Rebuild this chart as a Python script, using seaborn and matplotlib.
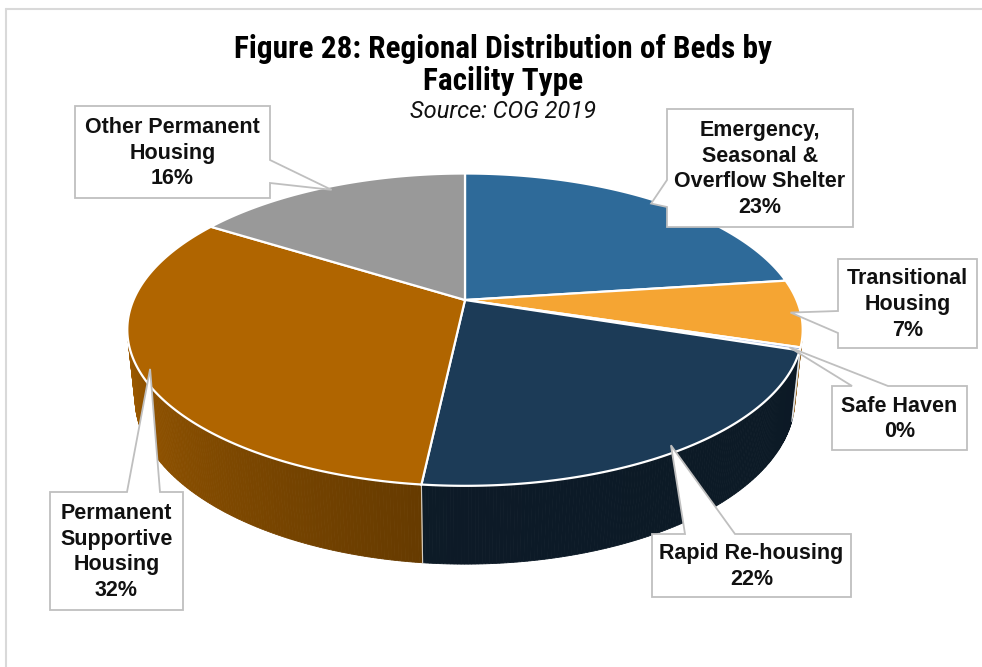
import numpy as np
import matplotlib
matplotlib.use("Agg")
import matplotlib.pyplot as plt
from matplotlib.patches import Polygon
import matplotlib.colors as mcolors
import seaborn as sns

# data (shares in percent, clockwise from 12 o'clock)
categories = ["Emergency,\nSeasonal &\nOverflow Shelter", "Transitional\nHousing",
              "Safe Haven", "Rapid Re-housing",
              "Permanent\nSupportive\nHousing", "Other Permanent\nHousing"]
shares = [22.9, 6.9, 0.3, 21.6, 32.3, 16.0]

top_colors = ["#2E6A99", "#F5A533", "#8FAADC", "#1C3B57", "#B06500", "#999999"]
# side wall darkening (right end, left end)
side_shade = [(0.55, 0.55), (0.62, 0.62), (0.5, 0.5), (0.43, 0.45), (0.58, 0.88), (0.6, 0.6)]

# callout boxes: (x0, y0, x1, y1), side where the pointer leaves, pointer base
boxes = [((667, 109, 853, 227), "left", (180, 207)),
         ((838, 259, 977, 348), "left", (311, 333)),
         ((832, 386, 967, 450), "top", (852, 888)),
         ((652, 534, 851, 597), "top", (685, 735)),
         ((50, 492, 183, 610), "top", (127, 160)),
         ((75, 106, 270, 198), "right", (160, 183))]

sns.set_theme(style="white")
plt.rcParams["font.family"] = ["Liberation Sans", "DejaVu Sans"]

# simple perspective camera for the tilted disk
ELEV = np.deg2rad(27)
DIST = 4.69
F = 1555.0
CX, CY = 465, 300
H = 0.235


def project(theta, r=1.0, z=0.0):
    t = np.deg2rad(theta)
    x, y = r * np.sin(t), r * np.cos(t)
    s, c = np.sin(ELEV), np.cos(ELEV)
    depth = DIST + y * c - z * s
    up = y * s + z * c
    return CX + F * x / depth, CY - F * up / depth


fig = plt.figure(figsize=(9.82, 6.67), dpi=100)
ax = fig.add_axes([0, 0, 1, 1])
ax.set_xlim(0, 982)
ax.set_ylim(667, 0)
ax.axis("off")

# frame of the chart area
ax.plot([6, 982], [9, 9], color="#D9D9D9", lw=1.5)
ax.plot([6, 6], [9, 667], color="#D9D9D9", lw=1.5)

bounds = np.concatenate([[0], np.cumsum(shares)]) / sum(shares) * 360
vis0 = np.degrees(np.arccos(-1 / (DIST * np.cos(ELEV))))
vis1 = 360 - vis0

# side walls
for i, col in enumerate(top_colors):
    a0, a1 = max(bounds[i], vis0), min(bounds[i + 1], vis1)
    if a1 <= a0:
        continue
    rgb = np.array(mcolors.to_rgb(col))
    steps = np.linspace(a0, a1, max(int((a1 - a0) * 2), 2))
    for j in range(len(steps) - 1):
        t0, t1 = steps[j], steps[j + 1]
        frac = ((t0 + t1) / 2 - a0) / (a1 - a0)
        k = side_shade[i][0] + (side_shade[i][1] - side_shade[i][0]) * frac
        p = [project(t0), project(t1), project(t1, z=-H), project(t0, z=-H)]
        ax.add_patch(Polygon(p, closed=True, fc=rgb * k, ec=rgb * k, lw=0.6, zorder=2))
    for t in (a0, a1):
        if vis0 < t < vis1 and t in (bounds[i], bounds[i + 1]):
            xa, ya = project(t)
            xb, yb = project(t, z=-H)
            ax.plot([xa, xb], [ya, yb], color="white", lw=0.8, alpha=0.5, zorder=3)

# top faces
for i, col in enumerate(top_colors):
    arc = np.linspace(bounds[i], bounds[i + 1], max(int((bounds[i + 1] - bounds[i]) * 2), 2))
    pts = [(CX, CY)] + [project(t) for t in arc]
    ax.add_patch(Polygon(pts, closed=True, fc=col, ec="white", lw=1.6, zorder=4))

# callouts
for i, (cat, v) in enumerate(zip(categories, shares)):
    (x0, y0, x1, y1), side, (b0, b1) = boxes[i]
    mid = (bounds[i] + bounds[i + 1]) / 2
    tip = project(mid, r=0.97)
    if side == "left":
        verts = [(x0, y0), (x1, y0), (x1, y1), (x0, y1), (x0, b1), tip, (x0, b0)]
    elif side == "right":
        verts = [(x0, y0), (x1, y0), (x1, b0), tip, (x1, b1), (x1, y1), (x0, y1)]
    else:
        verts = [(x0, y0), (b0, y0), tip, (b1, y0), (x1, y0), (x1, y1), (x0, y1)]
    ax.add_patch(Polygon(verts, closed=True, fc="white", ec="#BFBFBF", lw=1.3, zorder=6))
    ax.text((x0 + x1) / 2, (y0 + y1) / 2 + 1, f"{cat}\n{round(v)}%", ha="center", va="center",
            fontsize=15.5, fontweight="bold", color="#111111", linespacing=1.3, zorder=7)

ax.text(503, 65, "Figure 28: Regional Distribution of Beds by\nFacility Type", ha="center",
        va="center", fontsize=22.5, fontweight="bold", color="black", linespacing=1.12,
        family=["Roboto Condensed", "Liberation Sans", "DejaVu Sans"])
ax.text(503, 111, "Source: COG 2019", ha="center", va="center", fontsize=17, style="italic",
        color="#111111", family=["Roboto", "DejaVu Sans"])

fig.savefig("out.png", dpi=100)
